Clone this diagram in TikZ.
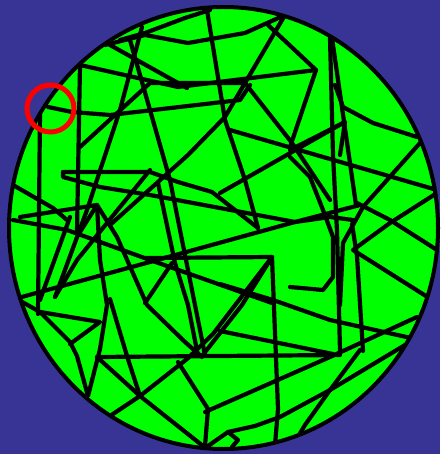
\documentclass[tikz,border=0pt]{standalone}
\usepackage{xcolor}
\definecolor{bgblue}{RGB}{56,52,150}
\definecolor{disc}{RGB}{0,255,0}
\begin{document}
\begin{tikzpicture}[x=1pt, y=-1pt,
		scribble/.style={line width=4.2pt, line join=round, line cap=round}]
		% Background and disc
		\fill[bgblue] (0,0) rectangle (440,454);
		\useasboundingbox (0,0) rectangle (440,454);
		\fill[disc] (223.5,228) ellipse [x radius=214.5, y radius=221];
		
		% Scribble
		\begin{scope}
			\clip (223.5,228) ellipse [x radius=214.5, y radius=221];
			% top
			\draw[scribble] (105,45) -- (145,35) -- (188,43) -- (245,33) -- (285,15);
			\draw[scribble] (120,40) -- (145,33) -- (185,18) -- (210,10);
			\draw[scribble] (207,10) -- (225,120) -- (245,180) -- (258,228);
			\draw[scribble] (285,15) -- (245,83) -- (225,117) -- (188,155) -- (110,225);
			\draw[scribble] (268,25) -- (316,70) -- (290,147);
			\draw[scribble] (80,65) -- (178,87) -- (316,70);
			\draw[scribble] (110,45) -- (187,88);
			\draw[scribble] (245,83) -- (292,143) -- (330,200);
			\draw[scribble] (142,27) -- (120,110) -- (87,210) -- (55,297);
			\draw[scribble] (130,40) -- (170,180) -- (205,355);
			\draw[scribble] (48,107) -- (72,112) -- (110,115) -- (240,100) -- (250,85);
			\draw[scribble] (80,147) -- (150,83) -- (245,83);
			\draw[scribble] (40,112) -- (38,314);
			\draw[scribble] (80,65) -- (77,232);
			% left loops
			\draw[scribble] (63,172) -- (150,172) -- (178,182) -- (212,192) -- (258,228);
			\draw[scribble] (63,172) -- (63,177) -- (100,187) -- (150,195) -- (295,222) -- (330,217) -- (353,220);
			\draw[scribble] (13,185) -- (53,208) -- (67,220);
			\draw[scribble] (20,217) -- (97,205) -- (80,232);
			\draw[scribble] (97,205) -- (117,237) -- (147,305) -- (185,342) -- (202,357);
			\draw[scribble] (13,220) -- (67,230) -- (150,260) -- (272,303);
			\draw[scribble] (18,298) -- (150,262) -- (295,222) -- (360,205);
			\draw[scribble] (55,297) -- (77,260) -- (150,170);
			\draw[scribble] (40,300) -- (70,217);
			\draw[scribble] (145,258) -- (272,257);
			\draw[scribble] (272,257) -- (278,409) -- (275,445);
			\draw[scribble] (272,257) -- (242,305) -- (202,356);
			\draw[scribble] (158,183) -- (175,263) -- (188,305) -- (198,356);
			\draw[scribble] (145,303) -- (172,263);
			\draw[scribble] (220,284) -- (273,300) -- (330,320) -- (420,340);
			% bottom
			\draw[scribble] (17,299) -- (40,312) -- (100,322) -- (70,344);
			\draw[scribble] (40,312) -- (70,342) -- (77,356) -- (88,396) -- (100,349) -- (107,305) -- (100,260) -- (97,205);
			\draw[scribble] (97,357) -- (340,355);
			\draw[scribble] (97,357) -- (140,396) -- (203,446);
			\draw[scribble] (110,299) -- (127,356) -- (140,396);
			\draw[scribble] (110,416) -- (140,396) -- (187,359) -- (213,334) -- (272,257);
			\draw[scribble] (178,362) -- (208,409) -- (205,446);
			\draw[scribble] (205,412) -- (330,357) -- (417,317);
			\draw[scribble] (208,446) -- (228,432) -- (255,426) -- (280,417) -- (330,390) -- (440,324);
			\draw[scribble] (228,432) -- (238,440) -- (232,447);
			\draw[scribble] (220,331) -- (333,354);
			\draw[scribble] (360,350) -- (330,390) -- (305,425) -- (290,450);
			% right
			\draw[scribble] (330,38) -- (333,155) -- (337,231) -- (340,351);
			\draw[scribble] (332,38) -- (356,205);
			\draw[scribble] (335,85) -- (343,107) -- (373,123) -- (417,137);
			\draw[scribble] (290,150) -- (345,122) -- (340,155);
			\draw[scribble] (230,130) -- (437,190);
			\draw[scribble] (420,143) -- (363,207) -- (343,243) -- (340,305);
			\draw[scribble] (357,203) -- (390,220) -- (437,250);
			\draw[scribble] (437,193) -- (390,223) -- (353,250) -- (437,303);
			\draw[scribble] (290,157) -- (310,177) -- (323,210) -- (333,237) -- (333,277) -- (323,290) -- (290,287);
			\draw[scribble] (352,224) -- (357,256) -- (363,351);
			\draw[scribble] (220,193) -- (343,123);
		\end{scope}
		\draw[line width=4pt] (223.5,228) ellipse [x radius=214.5, y radius=221];
		
		% Marker
		\draw[red, line width=5pt] (50.5,108.5) circle [radius=23.5];
	\end{tikzpicture}
\end{document}
